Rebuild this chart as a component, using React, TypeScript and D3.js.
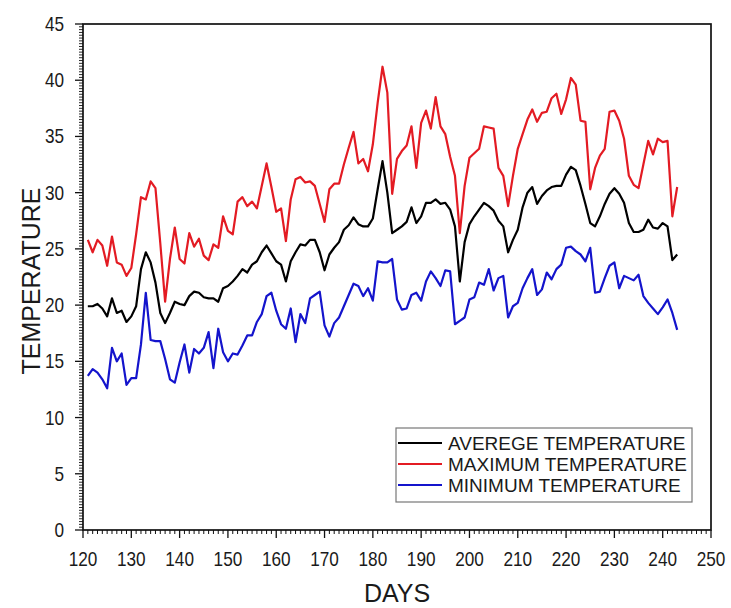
import React, { useEffect } from 'react';
import * as d3 from 'd3';

const START_DAY = 121;

const avgTemp = [
  19.9, 19.9, 20.1, 19.7, 19.0, 20.6, 19.3, 19.5, 18.5, 19.0,
  19.9, 23.2, 24.7, 23.8, 22.0, 19.3, 18.4, 19.3, 20.3, 20.1,
  20.0, 20.8, 21.2, 21.1, 20.7, 20.6, 20.6, 20.3, 21.5, 21.7,
  22.1, 22.6, 23.2, 22.9, 23.6, 23.9, 24.7, 25.3, 24.6, 23.9,
  23.6, 22.1, 23.9, 24.7, 25.4, 25.3, 25.8, 25.8, 24.7, 23.1,
  24.5, 25.1, 25.6, 26.7, 27.1, 27.8, 27.2, 27.0, 27.0, 27.7,
  30.3, 32.8, 30.0, 26.4, 26.7, 27.0, 27.4, 28.7, 27.3, 27.9,
  29.1, 29.1, 29.4, 29.0, 29.1, 28.5, 27.0, 22.1, 25.6, 27.2,
  27.9, 28.5, 29.1, 28.8, 28.4, 27.5, 27.0, 24.7, 25.8, 26.7,
  28.7, 30.0, 30.5, 29.0, 29.7, 30.2, 30.5, 30.6, 30.6, 31.6,
  32.3, 32.0, 30.6, 29.0, 27.3, 27.0, 27.9, 29.0, 29.9, 30.4,
  29.9, 29.1, 27.3, 26.5, 26.5, 26.7, 27.6, 26.9, 26.8, 27.3,
  27.0, 24.0, 24.5,
];

const maxTemp = [
  25.8, 24.7, 25.8, 25.3, 23.5, 26.1, 23.8, 23.6, 22.6, 23.3,
  26.3, 29.6, 29.4, 31.0, 30.4, 25.5, 20.3, 24.1, 26.9, 24.1,
  23.7, 26.4, 25.2, 25.9, 24.4, 24.0, 25.4, 25.1, 27.9, 26.6,
  26.3, 29.2, 29.6, 28.8, 29.2, 28.6, 30.6, 32.6, 30.5, 28.3,
  28.6, 25.7, 29.4, 31.2, 31.4, 30.9, 31.0, 30.6, 29.0, 27.4,
  30.3, 30.8, 30.8, 32.5, 34.0, 35.4, 32.6, 33.0, 31.9, 34.3,
  38.0, 41.2, 38.9, 29.9, 33.0, 33.7, 34.2, 35.9, 32.2, 36.2,
  37.3, 35.7, 38.5, 35.9, 35.2, 33.2, 31.5, 26.4, 30.6, 33.1,
  33.5, 33.9, 35.9, 35.8, 35.7, 32.2, 31.5, 28.8, 31.5, 33.9,
  35.2, 36.5, 37.4, 36.3, 37.1, 37.2, 38.4, 38.8, 37.0, 38.3,
  40.2, 39.6, 36.4, 36.3, 30.3, 32.2, 33.3, 33.9, 37.2, 37.3,
  36.4, 34.8, 31.5, 30.7, 30.4, 32.5, 34.6, 33.4, 34.8, 34.5,
  34.6, 27.9, 30.5,
];

const minTemp = [
  13.7, 14.3, 14.0, 13.4, 12.6, 16.2, 15.0, 15.7, 12.9, 13.5,
  13.5, 16.5, 21.1, 16.9, 16.8, 16.8, 15.2, 13.4, 13.1, 14.9,
  16.5, 14.0, 16.1, 15.7, 16.2, 17.6, 14.4, 17.9, 15.8, 15.0,
  15.7, 15.6, 16.4, 17.3, 17.3, 18.5, 19.2, 20.8, 21.1, 19.5,
  18.3, 17.9, 19.7, 16.7, 19.2, 18.4, 20.6, 20.9, 21.2, 18.2,
  17.2, 18.4, 18.9, 19.9, 20.9, 21.9, 21.7, 20.8, 21.5, 20.4,
  23.9, 23.8, 23.8, 24.1, 20.5, 19.6, 19.7, 20.9, 21.1, 20.4,
  22.1, 23.0, 22.4, 21.7, 23.1, 23.0, 18.3, 18.6, 18.9, 20.5,
  20.7, 22.0, 21.8, 23.2, 21.3, 22.4, 22.6, 18.9, 19.9, 20.2,
  21.5, 22.4, 23.2, 20.9, 21.4, 22.9, 22.3, 23.2, 23.6, 25.1,
  25.2, 24.8, 24.5, 23.9, 25.1, 21.1, 21.2, 22.4, 23.5, 23.8,
  21.5, 22.6, 22.4, 22.2, 22.7, 20.8, 20.2, 19.7, 19.2, 19.8,
  20.5, 19.3, 17.8,
];

const xTicks = [120, 130, 140, 150, 160, 170, 180, 190, 200, 210, 220, 230, 240, 250];
const yTicks = [0, 5, 10, 15, 20, 25, 30, 35, 40, 45];
const seriesNames = ['AVEREGE TEMPERATURE', 'MAXIMUM TEMPERATURE', 'MINIMUM TEMPERATURE'];
const seriesColors = ['#000000', '#e31b23', '#1414cc'];
const xTitle = 'DAYS';
const yTitle = 'TEMPERATURE';

const W = 731;
const H = 608;
const FONT = '"Liberation Sans", Arial, sans-serif';

export default function App() {
  useEffect(() => {
    document.body.style.margin = '0';
  }, []);

  const left = 83, right = 711, top = 24, bottom = 530;
  const x = d3.scaleLinear().domain([120, 250]).range([left, right]);
  const y = d3.scaleLinear().domain([0, 45]).range([bottom, top]);

  const series = [avgTemp, maxTemp, minTemp];
  const line = d3
    .line<number>()
    .x((_, i) => x(START_DAY + i))
    .y((d) => y(d));

  const xMinor = d3.range(120, 251, 1).filter((v) => v % 10 !== 0);
  const yMinor = d3.range(0, 45.001, 0.25).filter((v) => Math.abs(v % 5) > 1e-6 && Math.abs((v % 5) - 5) > 1e-6);

  const legX = 396, legY = 428, legW = 296, legH = 74;

  return (
    <svg width={W} height={H} style={{ display: 'block', position: 'absolute', left: 0, top: 0, background: '#fff' }}>
      <rect x={left} y={top} width={right - left} height={bottom - top} fill="none" stroke="#111" strokeWidth={1.7} />
      {xTicks.map((t) => (
        <g key={'xt' + t}>
          <line x1={x(t)} x2={x(t)} y1={bottom} y2={bottom + 8} stroke="#111" strokeWidth={1.3} />
          <text transform={`translate(${x(t)},566) scale(0.86,1)`} textAnchor="middle" fontFamily={FONT} fontSize={20} fill="#1a1a1a">{t}</text>
        </g>
      ))}
      {xMinor.map((t) => (
        <line key={'xm' + t} x1={x(t)} x2={x(t)} y1={bottom} y2={bottom + 4} stroke="#111" strokeWidth={1} />
      ))}
      {yTicks.map((t) => (
        <g key={'yt' + t}>
          <line x1={left - 8} x2={left} y1={y(t)} y2={y(t)} stroke="#111" strokeWidth={1.3} />
          <text transform={`translate(${left - 19},${y(t) + 7}) scale(0.86,1)`} textAnchor="end" fontFamily={FONT} fontSize={20} fill="#1a1a1a">{t}</text>
        </g>
      ))}
      {yMinor.map((t) => (
        <line key={'ym' + t} x1={left - 4} x2={left} y1={y(t)} y2={y(t)} stroke="#111" strokeWidth={0.9} />
      ))}
      {series.map((s, i) => (
        <path key={'s' + i} d={line(s) || ''} fill="none" stroke={seriesColors[i]} strokeWidth={2.2} strokeLinejoin="round" />
      ))}
      <rect x={legX} y={legY} width={legW} height={legH} fill="#fff" stroke="#777" strokeWidth={1.2} />
      {seriesNames.map((n, i) => (
        <g key={'lg' + i}>
          <line x1={legX + 2} x2={legX + 46} y1={legY + 15 + i * 21} y2={legY + 15 + i * 21} stroke={seriesColors[i]} strokeWidth={2.2} />
          <text x={legX + 52} y={legY + 22 + i * 21} fontFamily={FONT} fontSize={19} fill="#1a1a1a">{n}</text>
        </g>
      ))}
      <text x={(left + right) / 2} y={602} textAnchor="middle" fontFamily={FONT} fontSize={25} fill="#1a1a1a">{xTitle}</text>
      <text transform={`translate(40,${(top + bottom) / 2 + 4}) rotate(-90)`} textAnchor="middle" fontFamily={FONT} fontSize={25} fill="#1a1a1a">{yTitle}</text>
    </svg>
  );
}
